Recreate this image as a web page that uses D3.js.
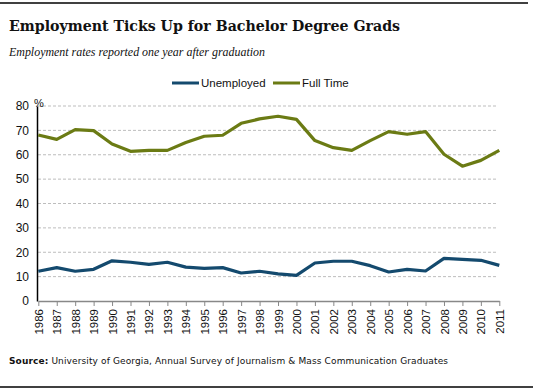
<!DOCTYPE html>
<html><head><meta charset="utf-8">
<script src="https://cdn.jsdelivr.net/npm/d3@7"></script>
<style>body{margin:0;background:#fff}svg{display:block}</style>
</head><body>
<script>
const years = [1986,1987,1988,1989,1990,1991,1992,1993,1994,1995,1996,1997,1998,1999,2000,2001,2002,2003,2004,2005,2006,2007,2008,2009,2010,2011];
const unemployed = [12.2,13.7,12.2,13.0,16.5,15.9,15.0,15.9,13.9,13.4,13.7,11.5,12.2,11.1,10.5,15.6,16.3,16.3,14.5,11.9,13.0,12.3,17.5,17.1,16.7,14.6];
const fullTime = [68.1,66.3,70.3,69.9,64.4,61.4,61.8,61.8,65.0,67.6,68.0,72.9,74.7,75.8,74.5,65.8,62.9,61.8,65.8,69.5,68.4,69.5,60.2,55.3,57.7,61.8];
const yTicks = [0,10,20,30,40,50,60,70,80];
const seriesNames = ["Unemployed","Full Time"];
const colors = ["#144a6e","#6b7b14"];

const W=533,H=392;
const svg=d3.select("body").append("svg").attr("width",W).attr("height",H);
svg.append("line").attr("x1",0).attr("x2",528).attr("y1",3).attr("y2",3).attr("stroke","#000").attr("stroke-width",1.5);
svg.append("line").attr("x1",0).attr("x2",533).attr("y1",387).attr("y2",387).attr("stroke","#000").attr("stroke-width",1.5);
svg.append("text").attr("x",9).attr("y",31).text("Employment Ticks Up for Bachelor Degree Grads")
  .attr("font-family","Georgia, 'DejaVu Serif', serif").attr("font-weight","bold").attr("font-size",15.5).attr("fill","#111")
  .attr("textLength",391).attr("lengthAdjust","spacingAndGlyphs");
svg.append("text").attr("x",9).attr("y",56).text("Employment rates reported one year after graduation")
  .attr("font-family","Georgia, 'Liberation Serif', serif").attr("font-style","italic").attr("font-size",12).attr("fill","#111")
  .attr("textLength",256).attr("lengthAdjust","spacingAndGlyphs");

const x=d3.scaleLinear().domain([1986,2011]).range([38.3,499.3]);
const y=d3.scaleLinear().domain([0,80]).range([301,106]);

// grid
svg.append("g").selectAll("line").data(yTicks.filter(d=>d>0)).join("line")
  .attr("x1",38).attr("x2",498).attr("y1",d=>y(d)).attr("y2",d=>y(d))
  .attr("stroke","#bdbdbd").attr("stroke-dasharray","3,2").attr("stroke-width",1);

// y axis
const ya=svg.append("g").attr("transform","translate(37,0)").call(d3.axisLeft(y).tickValues(yTicks).tickSize(0).tickPadding(8));
ya.select(".domain").attr("stroke","#000").attr("stroke-width",1.5);
ya.selectAll("text").attr("font-family","Arial, 'Liberation Sans', sans-serif").attr("font-size",12).attr("fill","#111");
svg.append("text").attr("x",34).attr("y",107).text("%").attr("font-family","Arial, 'Liberation Sans', sans-serif").attr("font-size",11).attr("fill","#111");

// x axis
const xa=svg.append("g").attr("transform","translate(0,301)").call(d3.axisBottom(x).tickValues(years).tickFormat(d3.format("d")).tickSize(5).tickSizeOuter(0));
xa.select(".domain").attr("stroke","#888").attr("stroke-width",1.5);
xa.selectAll(".tick line").attr("stroke","#888");
xa.selectAll("text").attr("font-family","Arial, 'Liberation Sans', sans-serif").attr("font-size",11.5).attr("fill","#111")
  .attr("transform","rotate(-90)").attr("text-anchor","end").attr("dy","0.35em").attr("x",-8).attr("y",0);

const line=d3.line().x((d,i)=>x(years[i])).y(d=>y(d));
[unemployed,fullTime].forEach((s,k)=>{
  svg.append("path").datum(s).attr("d",line).attr("fill","none").attr("stroke",colors[k]).attr("stroke-width",3.2).attr("stroke-linejoin","round");
});

// legend
const leg=[{x:172,tx:201},{x:273,tx:302}];
seriesNames.forEach((n,k)=>{
  svg.append("line").attr("x1",leg[k].x).attr("x2",leg[k].x+27).attr("y1",83).attr("y2",83).attr("stroke",colors[k]).attr("stroke-width",3);
  svg.append("text").attr("x",leg[k].tx).attr("y",87).text(n).attr("font-family","Arial, 'Liberation Sans', sans-serif").attr("font-size",11.5).attr("fill","#111");
});

// source
const src=svg.append("text").attr("x",9).attr("y",364).attr("font-family","Verdana, 'DejaVu Sans', sans-serif").attr("font-size",9).attr("fill","#111")
  .attr("textLength",439).attr("lengthAdjust","spacing");
src.append("tspan").attr("font-weight","bold").text("Source:");
src.append("tspan").text("  University of Georgia, Annual Survey of Journalism & Mass Communication Graduates");
</script>
</body></html>
